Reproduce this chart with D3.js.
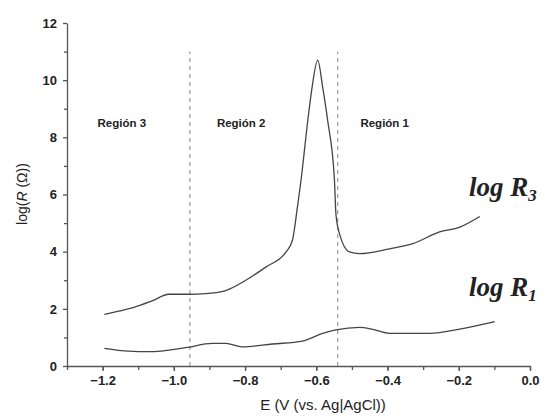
<!DOCTYPE html>
<html>
<head>
<meta charset="utf-8">
<script src="https://cdn.jsdelivr.net/npm/d3@7"></script>
<style>
  body { margin: 0; background: #fff; }
  svg { display: block; }
  .tick text { font-family: Arial, "Liberation Sans", sans-serif; font-weight: bold; font-size: 13px; fill: #222; }
  .domain, .tick line { stroke: #555; stroke-width: 1.3; }
</style>
</head>
<body>
<svg id="chart"></svg>
<script>
// potential (V vs Ag|AgCl) and log R values
var r3E = [-1.195, -1.155, -1.108, -1.061, -1.014, -0.958, -0.911, -0.859, -0.798, -0.742, -0.685, -0.667,
	-0.653, -0.643, -0.624, -0.612, -0.596, -0.582, -0.568, -0.549, -0.545, -0.535, -0.507, -0.479,
	-0.394, -0.329, -0.254, -0.197, -0.141];
var r3Log = [1.80, 1.92, 2.07, 2.28, 2.51, 2.51, 2.53, 2.62, 3.00, 3.46, 3.99, 4.40,
	5.56, 6.49, 8.58, 9.74, 10.70, 9.74, 8.58, 6.49, 5.33, 4.63, 3.99, 3.93,
	4.10, 4.28, 4.69, 4.86, 5.23];

var r1E = [-1.195, -1.127, -1.070, -0.967, -0.892, -0.854, -0.808, -0.723, -0.639, -0.582, -0.545,
	-0.479, -0.441, -0.394, -0.282, -0.197, -0.099];
var r1Log = [0.62, 0.52, 0.50, 0.64, 0.79, 0.79, 0.67, 0.77, 0.87, 1.14, 1.26,
	1.35, 1.28, 1.14, 1.14, 1.29, 1.55];

var xTicks = [-1.2, -1.0, -0.8, -0.6, -0.4, -0.2, 0.0];
var yTicks = [0, 2, 4, 6, 8, 10, 12];
var boundaries = [-0.955, -0.54];
var regionNames = ['Región 3', 'Región 2', 'Región 1'];
var regionCenters = [-1.146, -0.811, -0.408];

var width = 545, height = 420;
var margin = {top: 23, right: 15, bottom: 54, left: 67};

var svg = d3.select('#chart')
	.attr('width', width)
	.attr('height', height);

var x = d3.scaleLinear()
	.domain([-1.3, 0])
	.range([margin.left, width - margin.right]);
var y = d3.scaleLinear()
	.domain([0, 12])
	.range([height - margin.bottom, margin.top]);

// minor ticks first, then the labelled axis over them
svg.append('g')
	.attr('transform', 'translate(0,' + y(0) + ')')
	.call(d3.axisBottom(x).tickValues(d3.range(-1.3, 0.001, 0.1)).tickSize(4).tickFormat(''))
	.select('.domain').remove();
svg.append('g')
	.attr('transform', 'translate(' + x(-1.3) + ',0)')
	.call(d3.axisLeft(y).tickValues(d3.range(1, 12, 2)).tickSize(3).tickFormat(''))
	.select('.domain').remove();

svg.append('g')
	.attr('transform', 'translate(0,' + y(0) + ')')
	.call(d3.axisBottom(x).tickValues(xTicks).tickSize(5).tickPadding(5).tickSizeOuter(0)
		.tickFormat(d3.format('.1f')));
svg.append('g')
	.attr('transform', 'translate(' + x(-1.3) + ',0)')
	.call(d3.axisLeft(y).tickValues(yTicks).tickSize(4).tickPadding(6).tickSizeOuter(0));

// region boundaries
svg.selectAll('line.bound')
	.data(boundaries)
	.enter()
	.append('line')
	.attr('class', 'bound')
	.attr('x1', function(d) { return x(d); })
	.attr('x2', function(d) { return x(d); })
	.attr('y1', y(0))
	.attr('y2', y(11))
	.style('stroke', '#999')
	.style('stroke-width', 1.2)
	.style('stroke-dasharray', '4,4');

svg.selectAll('text.region')
	.data(regionNames)
	.enter()
	.append('text')
	.attr('class', 'region')
	.attr('x', function(d, i) { return x(regionCenters[i]); })
	.attr('y', y(8.5) + 4)
	.attr('text-anchor', 'middle')
	.style('font-family', 'Arial, sans-serif')
	.style('font-weight', 'bold')
	.style('font-size', '11.5px')
	.style('fill', '#222')
	.text(function(d) { return d; });

var line = d3.line()
	.x(function(d) { return x(d[0]); })
	.y(function(d) { return y(d[1]); })
	.curve(d3.curveMonotoneX);

[[r3E, r3Log], [r1E, r1Log]].forEach(function(s) {
	svg.append('path')
		.datum(d3.zip(s[0], s[1]))
		.attr('d', line)
		.style('fill', 'none')
		.style('stroke', '#444')
		.style('stroke-width', 1.3);
});

// curve labels
function curveLabel(sub, px, py) {
	var t = svg.append('text')
		.attr('x', px)
		.attr('y', py)
		.style('font-family', '"Liberation Serif", "DejaVu Serif", serif')
		.style('font-style', 'italic')
		.style('font-weight', 'bold')
		.style('font-size', '27px')
		.style('fill', '#222');
	t.append('tspan').text('log R');
	t.append('tspan').attr('dy', 5).style('font-size', '17px').text(sub);
}
curveLabel('3', 469, 196);
curveLabel('1', 469, 296);

// axis titles
svg.append('text')
	.attr('x', 323)
	.attr('y', 410)
	.attr('text-anchor', 'middle')
	.style('font-family', 'Arial, sans-serif')
	.style('font-size', '15px')
	.style('fill', '#222')
	.text('E (V (vs. Ag|AgCl))');

var yl = svg.append('text')
	.attr('transform', 'translate(27,194) rotate(-90)')
	.attr('text-anchor', 'middle')
	.style('font-family', 'Arial, sans-serif')
	.style('font-size', '14px')
	.style('fill', '#222');
yl.append('tspan').text('log(');
yl.append('tspan').style('font-style', 'italic').text('R');
yl.append('tspan').text(' (Ω))');
</script>
</body>
</html>
